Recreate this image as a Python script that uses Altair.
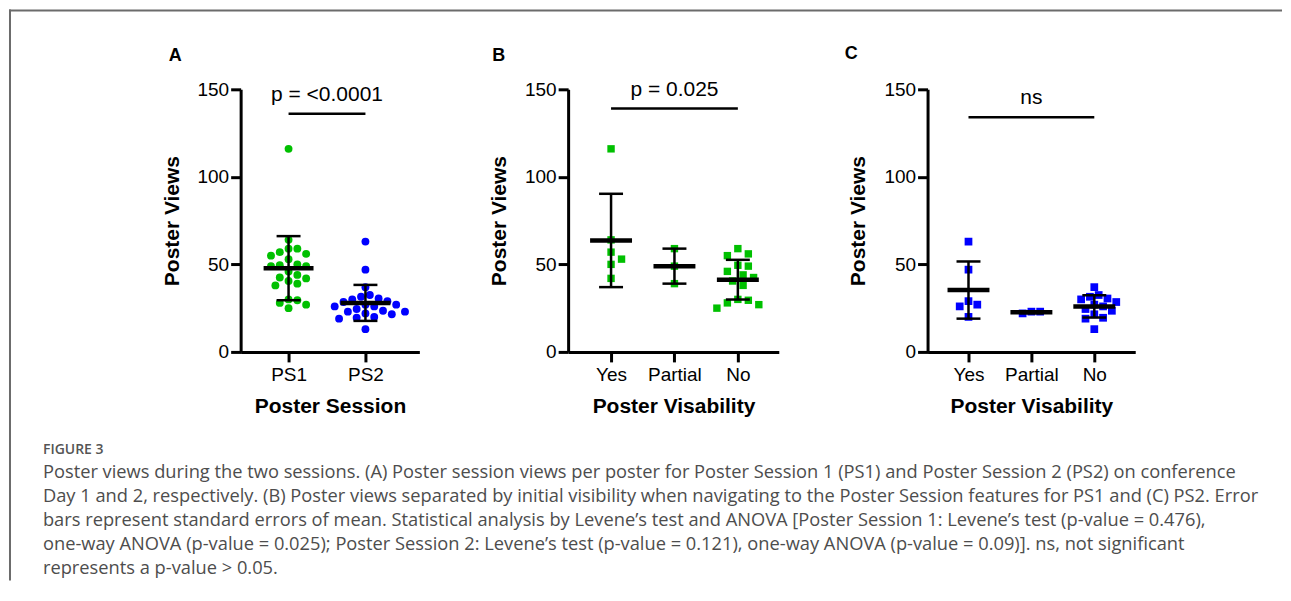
import json
import altair as alt
import pandas as pd

# ---------------- data ----------------
ps1_yes = [116, 64, 57, 53, 50, 42]
ps1_partial = [59, 49, 39]
ps1_no = [59, 56, 55, 49.5, 49, 46, 44, 42.5, 40.5, 38, 30, 29.5, 28, 27, 25]

ps2_yes = [63, 47, 29, 27, 26, 20]
ps2_partial = [22, 23, 23]
ps2_no = [37, 32.5, 31.5, 30.5, 30, 28.5, 27, 26, 24.5, 23.5, 21.5, 19.5, 19, 13]

session_labels = ["PS1", "PS2"]
visibility_labels = ["Yes", "Partial", "No"]
panel_letters = ["A", "B", "C"]
sig_labels = ["p = <0.0001", "p = 0.025", "ns"]
sig_heights = [136, 139, 134]
y_ticks = [0, 50, 100, 150]
y_title = "Poster Views"
x_titles = ["Poster Session", "Poster Visability", "Poster Visability"]

caption_head = "FIGURE 3"
caption_lines = [
    "Poster views during the two sessions. (A) Poster session views per poster for Poster Session 1 (PS1) and Poster Session 2 (PS2) on conference",
    "Day 1 and 2, respectively. (B) Poster views separated by initial visibility when navigating to the Poster Session features for PS1 and (C) PS2. Error",
    "bars represent standard errors of mean. Statistical analysis by Levene\u2019s test and ANOVA [Poster Session 1: Levene\u2019s test (p-value = 0.476),",
    "one-way ANOVA (p-value = 0.025); Poster Session 2: Levene\u2019s test (p-value = 0.121), one-way ANOVA (p-value = 0.09)]. ns, not significant",
    "represents a p-value > 0.05.",
]

# ---------------- styles / layout ----------------
GREEN = "#00C000"
BLUE = "#0000FF"
FONT = "Liberation Sans"
CAP_FONT = "Open Sans"
PLOT_H = 263
Y_MAX = 150
PPU = PLOT_H / Y_MAX


def swarm(vals, d):
    """Simple beeswarm: pixel x-offsets so markers do not overlap."""
    order = sorted(range(len(vals)), key=lambda i: -vals[i])
    placed = []
    offs = [0.0] * len(vals)
    cands = [0.0]
    for m in range(1, 30):
        cands += [m * d / 2, -m * d / 2]
    for i in order:
        y = vals[i] * PPU
        for c in cands:
            if all((c - px) ** 2 + (y - py) ** 2 >= 0.92 * d * d for px, py in placed):
                offs[i] = c
                placed.append((c, y))
                break
    return offs


def panel(groups, labels, colors, shape, size, d, idx, width, step, lpad, letter_pos,
          mean_w, extra=None):
    rows = []
    for gi, vals in enumerate(groups):
        offs = swarm(vals, d)
        for v, o in zip(vals, offs):
            rows.append({"g": gi, "v": v, "xj": gi + o / step, "col": colors[gi]})
    df = pd.DataFrame(rows)

    xs = alt.Scale(domain=[-lpad / step, (width - lpad) / step], nice=False, zero=False)
    ys = alt.Scale(domain=[0, Y_MAX], nice=False, zero=True)
    label_expr = json.dumps(labels) + "[datum.value]"
    xaxis = alt.Axis(values=list(range(len(labels))), labelExpr=label_expr, title=x_titles[idx],
                     labelPadding=4, titlePadding=11, labelFlush=False, labelOverlap=False)
    yaxis = alt.Axis(values=y_ticks, title=y_title, labelPadding=2, titlePadding=15,
                     labelFlush=False, labelOverlap=False)

    def X(f):
        return alt.X(f, scale=xs, axis=xaxis)

    def Y(f):
        return alt.Y(f, scale=ys, axis=yaxis)

    base = alt.Chart(df)
    pts = base.mark_point(filled=True, shape=shape, size=size, opacity=1, strokeWidth=0).encode(
        x=X("xj:Q"), y=Y("v:Q"), color=alt.Color("col:N", scale=None, legend=None))
    stats = base.transform_aggregate(m="mean(v)", s="stdev(v)", groupby=["g"]).transform_calculate(
        lo="datum.m - datum.s", hi="datum.m + datum.s")
    err = stats.mark_rule(color="black", strokeWidth=2.5, opacity=1).encode(
        x=X("g:Q"), y=Y("lo:Q"), y2="hi:Q")
    cap_lo = stats.mark_tick(orient="horizontal", size=24, thickness=2.5, color="black",
                             opacity=1).encode(x=X("g:Q"), y=Y("lo:Q"))
    cap_hi = stats.mark_tick(orient="horizontal", size=24, thickness=2.5, color="black",
                             opacity=1).encode(x=X("g:Q"), y=Y("hi:Q"))
    mean = stats.mark_tick(orient="horizontal", size=mean_w, thickness=4.5, color="black",
                           opacity=1).encode(x=X("g:Q"), y=Y("m:Q"))

    sig_df = pd.DataFrame({"x1": [0], "x2": [len(labels) - 1], "y": [sig_heights[idx]],
                           "label": [sig_labels[idx]]})
    sig = alt.Chart(sig_df)
    sig_line = sig.mark_rule(color="black", strokeWidth=2.5).encode(
        x=X("x1:Q"), x2="x2:Q", y=Y("y:Q"))
    sig_text = sig.transform_calculate(xc="(datum.x1 + datum.x2) / 2").mark_text(
        font=FONT, fontSize=21, dy=-13, baseline="alphabetic", color="black").encode(
        x=X("xc:Q"), y=Y("y:Q"), text="label:N")

    let_df = pd.DataFrame({"t": [panel_letters[idx]]})
    letter = alt.Chart(let_df).mark_text(font=FONT, fontSize=18, fontWeight="bold", align="left",
                                         baseline="alphabetic", color="black").encode(
        x=alt.value(letter_pos[0]), y=alt.value(letter_pos[1]), text="t:N")

    layers = [pts, err, cap_lo, cap_hi, mean, sig_line, sig_text, letter]
    if extra:
        layers += extra
    return alt.layer(*layers).properties(width=width, height=PLOT_H)


# decorations (frame + caption) attached to panel A, positioned relative to its plot origin
one = pd.DataFrame({"k": [0]})
frame_left = alt.Chart(one).mark_rule(color="#6b6b6b", strokeWidth=2).encode(
    x=alt.value(-231), y=alt.value(-80), y2=alt.value(492))
frame_top = alt.Chart(one).mark_rule(color="#6b6b6b", strokeWidth=2).encode(
    x=alt.value(-232), x2=alt.value(1043), y=alt.value(-79))
cap_head = alt.Chart(one).mark_text(text=caption_head, font=CAP_FONT, fontSize=14,
                                    fontWeight=600, color="#555555",
                                    align="left", baseline="alphabetic").encode(
    x=alt.value(-198), y=alt.value(365))
cap_body = alt.Chart(one).mark_text(text=caption_lines, font=CAP_FONT, fontSize=18.3,
                                    lineHeight=24, color="#4d4d4d", align="left",
                                    baseline="alphabetic").encode(
    x=alt.value(-198), y=alt.value(389))

pA = panel([ps1_yes + ps1_partial + ps1_no, ps2_yes + ps2_partial + ps2_no], session_labels,
           [GREEN, BLUE], "circle", 62, 8.8, 0, 179, 77, 48, (-72, -28), 50,
           extra=[frame_left, frame_top, cap_head, cap_body])
pB = panel([ps1_yes, ps1_partial, ps1_no], visibility_labels, [GREEN, GREEN, GREEN], "square",
           55, 10.5, 1, 211, 63.5, 43, (-76, -28), 42)
pC = panel([ps2_yes, ps2_partial, ps2_no], visibility_labels, [BLUE, BLUE, BLUE], "square",
           60, 8.8, 2, 208, 63, 41, (-83, -30), 42)

chart = alt.hconcat(pA, pB, pC, spacing=149, bounds="flush").properties(
    padding=0, background="white"
).configure_view(stroke=None).configure_axis(
    domainColor="black", domainWidth=3, tickColor="black", tickWidth=3, tickSize=10,
    labelFont=FONT, labelFontSize=19, labelColor="black",
    titleFont=FONT, titleFontSize=21, titleFontWeight="bold", titleColor="black", grid=False,
)

chart.save("out.html", embed_options={"renderer": "svg", "actions": False})
